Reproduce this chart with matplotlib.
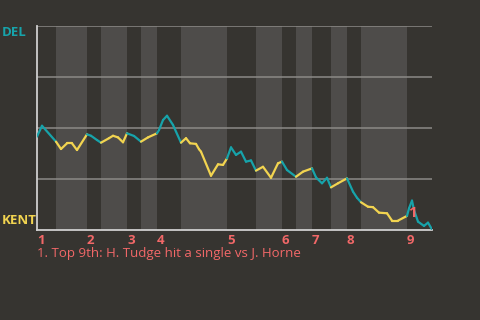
import matplotlib
matplotlib.use("Agg")
import matplotlib.pyplot as plt
from matplotlib.collections import LineCollection

# game progress (0..395) and DEL win probability
progress = [0, 5, 19, 24, 30, 35, 40, 50, 54, 60, 64, 72, 76, 81, 86, 90, 97, 104,
            111, 120, 122, 126, 130, 136, 144, 149, 153, 159, 162, 164, 174, 181,
            186, 190, 194, 199, 204, 209, 214, 219, 226, 234, 241, 245, 250, 259,
            266, 275, 279, 285, 290, 294, 301, 310, 316, 320, 324, 331, 336, 342,
            350, 355, 361, 370, 372, 375, 377, 381, 387, 391, 395]
del_wp = [0.458, 0.511, 0.433, 0.397, 0.425, 0.425, 0.392, 0.469, 0.462, 0.441,
          0.428, 0.450, 0.462, 0.454, 0.430, 0.474, 0.461, 0.433, 0.454, 0.474,
          0.490, 0.539, 0.560, 0.515, 0.428, 0.450, 0.425, 0.422, 0.396, 0.384,
          0.266, 0.322, 0.319, 0.351, 0.405, 0.368, 0.384, 0.335, 0.341, 0.291,
          0.310, 0.256, 0.327, 0.335, 0.294, 0.261, 0.286, 0.302, 0.258, 0.229,
          0.256, 0.209, 0.229, 0.253, 0.188, 0.158, 0.136, 0.114, 0.112, 0.085,
          0.082, 0.046, 0.046, 0.069, 0.106, 0.144, 0.098, 0.041, 0.020, 0.036,
          0.003]

# half-inning start points (top, bottom, top, ...)
half_starts = [0, 19, 50, 64, 90, 104, 120, 144, 190, 219, 245, 259, 275, 294,
               310, 324, 370]
game_end = 395
inning_labels = ["1", "2", "3", "4", "5", "6", "7", "8", "9"]

away_team = "DEL"
home_team = "KENT"
event_x = 375
event_wp = 0.144
event_note = "1. Top 9th: H. Tudge hit a single vs J. Horne"

BG = "#363430"
BAND = "#4e4c4a"
TEAL = "#17a3aa"
YELLOW = "#f2d450"
SALMON = "#f26868"

plt.rcParams['font.family'] = ['Open Sans', 'DejaVu Sans']

fig = plt.figure(figsize=(4.8, 3.2), dpi=100, facecolor=BG)
ax = fig.add_axes([37 / 480, 90 / 320, 395 / 480, 204 / 320])
ax.set_facecolor(BG)

ends = half_starts[1:] + [game_end]
for i, (s, e) in enumerate(zip(half_starts, ends)):
    if i % 2 == 1:
        ax.axvspan(s, e, color=BAND, lw=0, zorder=0)

for y in [0.25, 0.5, 0.75, 1.0]:
    ax.axhline(y, color="#8c8a87", lw=1.1, zorder=1)

# colour each segment by the half inning it falls in
segs, cols = [], []
for i in range(len(progress) - 1):
    mid = (progress[i] + progress[i + 1]) / 2
    half = sum(1 for s in half_starts if s <= mid) - 1
    segs.append([(progress[i], del_wp[i]), (progress[i + 1], del_wp[i + 1])])
    cols.append(TEAL if half % 2 == 0 else YELLOW)
ax.add_collection(LineCollection(segs, colors=cols, linewidths=1.6, zorder=3,
                                 capstyle='round', joinstyle='round'))

ax.set_xlim(0, game_end)
ax.set_ylim(0, 1)
ax.set_xticks([])
ax.set_yticks([])
for side in ['top', 'right']:
    ax.spines[side].set_visible(False)
for side in ['left', 'bottom']:
    ax.spines[side].set_color("#cfcfcf")
    ax.spines[side].set_linewidth(1.3)

for lab, x in zip(inning_labels, half_starts[::2]):
    ax.text(x, -0.02, lab, color=SALMON, fontsize=9.5, fontweight='bold',
            ha='left', va='top', transform=ax.transData)

ax.text(event_x + 1, event_wp - 0.025, "1", color=SALMON, fontsize=11,
        fontweight='bold', ha='center', va='top', zorder=5, clip_on=False)

fig.text(2 / 480, 1 - 33 / 320, away_team, color=TEAL, fontsize=9.5,
         fontweight='bold', ha='left', va='center')
fig.text(2 / 480, 1 - 221 / 320, home_team, color=YELLOW, fontsize=9.5,
         fontweight='bold', ha='left', va='center')
fig.text(37 / 480, 1 - 254 / 320, event_note, color=SALMON, fontsize=9.5,
         ha='left', va='center')

fig.savefig("out.png", dpi=100, facecolor=BG)
